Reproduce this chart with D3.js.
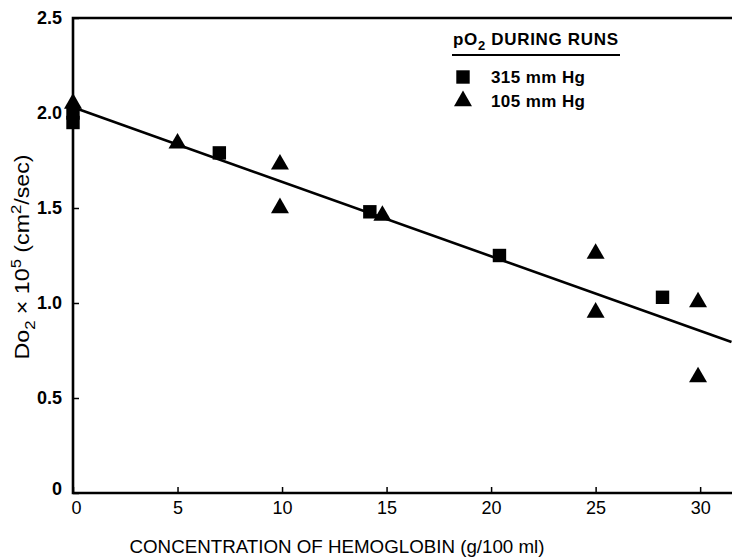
<!DOCTYPE html>
<html>
<head>
<meta charset="utf-8">
<script src="https://cdn.jsdelivr.net/npm/d3@7"></script>
<style>
  html, body { margin: 0; padding: 0; background: #fff; }
  svg { display: block; font-family: "Liberation Sans", Arial, sans-serif; }
</style>
</head>
<body>
<div id="chart"></div>
<script>
// data
const xTicks = [0, 5, 10, 15, 20, 25, 30];
const yTicks = [0, 0.5, 1.0, 1.5, 2.0, 2.5];
const yTickLabels = ["0", "0.5", "1.0", "1.5", "2.0", "2.5"];

// pO2 = 315 mm Hg (squares)
const hbHigh = [0, 0, 7.0, 14.2, 20.4, 28.2];
const dHigh = [2.0, 1.95, 1.79, 1.48, 1.25, 1.03];

// pO2 = 105 mm Hg (triangles)
const hbLow = [0, 5.0, 9.9, 9.9, 14.8, 25.0, 25.0, 29.9, 29.9];
const dLow = [2.05, 1.84, 1.73, 1.50, 1.46, 1.26, 0.95, 1.005, 0.61];

// fitted line end points
const fitX = [0, 31.5];
const fitY = [2.03, 0.795];

const legendItems = ["315 mm Hg", "105 mm Hg"];

const W = 732, H = 558;
const svg = d3.select("#chart").append("svg").attr("width", W).attr("height", H);

const x = d3.scaleLinear().domain([0, 31.5]).range([73, 731.5]);
const y = d3.scaleLinear().domain([0, 2.5]).range([493, 18]);

// frame: left axis, bottom axis, top border
svg.append("path")
  .attr("d", `M${W},${y(2.5)}H${x(0)}V${y(0)}H${W}`)
  .attr("fill", "none").attr("stroke", "#000").attr("stroke-width", 2.6);

// x ticks (inward)
const xAxis = svg.append("g").attr("transform", `translate(0,${y(0)})`)
  .call(d3.axisBottom(x).tickValues(xTicks).tickSize(-6).tickPadding(8).tickFormat(d => d));
xAxis.select(".domain").remove();
xAxis.selectAll("line").attr("stroke-width", 1.5);
xAxis.selectAll("text").attr("font-size", 18).attr("font-family", "Liberation Sans, Arial")
  .attr("fill", "#000").attr("dx", (d, i) => i === 0 ? 3 : 0);

// y ticks (inward)
const yAxis = svg.append("g").attr("transform", `translate(${x(0)},0)`)
  .call(d3.axisLeft(y).tickValues(yTicks).tickSize(-6).tickPadding(11)
    .tickFormat((d, i) => yTickLabels[i]));
yAxis.select(".domain").remove();
yAxis.selectAll("line").attr("stroke-width", 1.5);
yAxis.selectAll("text").attr("font-size", 18).attr("font-weight", "bold")
  .attr("font-family", "Liberation Sans, Arial").attr("fill", "#000")
  .attr("dy", (d, i) => i === 0 ? "0.1em" : "0.32em");

// fitted line
svg.append("line")
  .attr("x1", x(fitX[0])).attr("y1", y(fitY[0]))
  .attr("x2", x(fitX[1])).attr("y2", y(fitY[1]))
  .attr("stroke", "#000").attr("stroke-width", 2.6);

const sq = d3.symbol().type(d3.symbolSquare).size(180);
const tri = d3.symbol().type(d3.symbolTriangle).size(140);

svg.append("g").selectAll("path")
  .data(hbHigh.map((v, i) => [v, dHigh[i]]))
  .join("path")
  .attr("d", sq)
  .attr("transform", d => `translate(${x(d[0])},${y(d[1])})`)
  .attr("fill", "#000");

svg.append("g").selectAll("path")
  .data(hbLow.map((v, i) => [v, dLow[i]]))
  .join("path")
  .attr("d", tri)
  .attr("transform", d => `translate(${x(d[0])},${y(d[1])})`)
  .attr("fill", "#000");

// legend
const lg = svg.append("g").attr("transform", "translate(453,45)");
const lt = lg.append("text").attr("font-size", 17).attr("font-weight", "bold").attr("fill", "#000")
  .attr("textLength", 165).attr("lengthAdjust", "spacing");
lt.append("tspan").text("pO");
lt.append("tspan").attr("dy", 5).attr("font-size", 13).text("2");
lt.append("tspan").attr("dy", -5).text("  DURING RUNS");
lg.append("line").attr("x1", -1).attr("x2", 167).attr("y1", 10).attr("y2", 10)
  .attr("stroke", "#000").attr("stroke-width", 2);

lg.selectAll(".li").data(legendItems).join("g")
  .attr("class", "li")
  .attr("transform", (d, i) => `translate(0,${32 + i * 24})`)
  .each(function(d, i) {
    const g = d3.select(this);
    g.append("path").attr("d", i === 0 ? sq : tri)
      .attr("transform", "translate(10,0)").attr("fill", "#000");
    g.append("text").attr("x", 38).attr("y", 6).attr("font-size", 17)
      .attr("font-weight", "bold").attr("fill", "#000")
      .attr("textLength", 94).attr("lengthAdjust", "spacing").text(d);
  });

// x axis title
svg.append("text")
  .attr("x", 337).attr("y", 553).attr("text-anchor", "middle")
  .attr("font-size", 19).attr("fill", "#000")
  .attr("textLength", 415).attr("lengthAdjust", "spacingAndGlyphs")
  .text("CONCENTRATION OF HEMOGLOBIN (g/100 ml)");

// y axis title
const yt = svg.append("text")
  .attr("transform", "translate(29,257) rotate(-90)")
  .attr("text-anchor", "middle").attr("font-size", 21).attr("fill", "#000")
  .attr("textLength", 205).attr("lengthAdjust", "spacingAndGlyphs");
yt.append("tspan").text("Do");
yt.append("tspan").attr("dy", 6).attr("font-size", 15).text("2");
yt.append("tspan").attr("dy", -6).text(" × 10");
yt.append("tspan").attr("dy", -8).attr("font-size", 15).text("5");
yt.append("tspan").attr("dy", 8).text(" (cm");
yt.append("tspan").attr("dy", -8).attr("font-size", 15).text("2");
yt.append("tspan").attr("dy", 8).text("/sec)");
</script>
</body>
</html>
